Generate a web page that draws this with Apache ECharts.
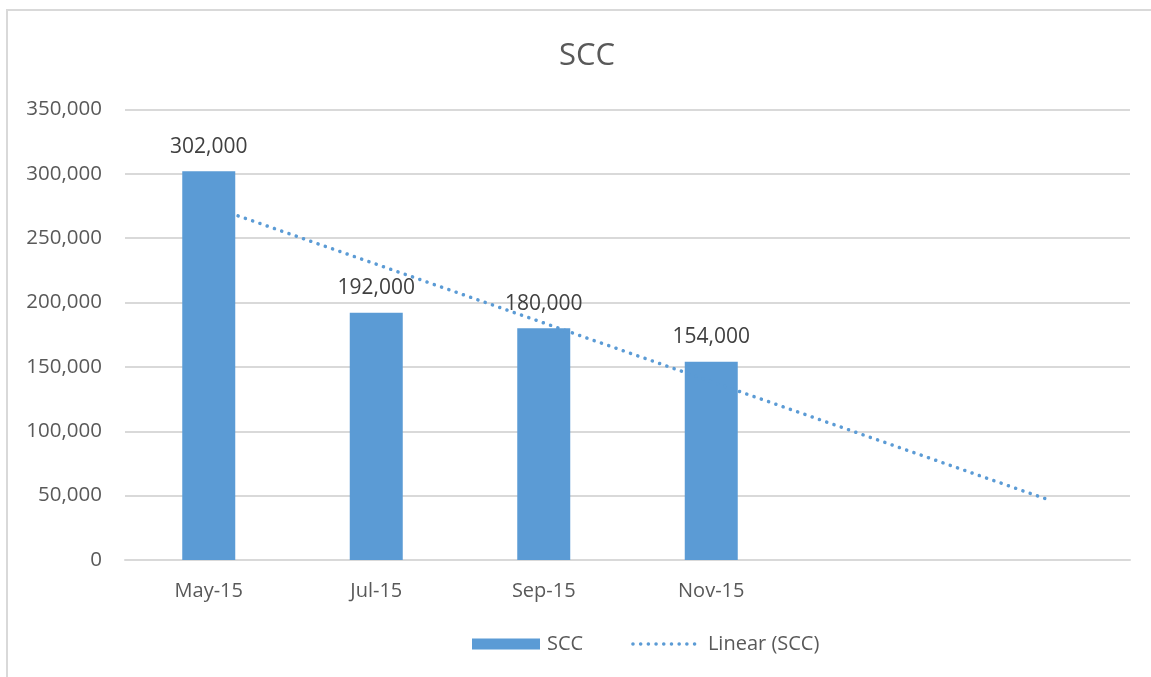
<!DOCTYPE html>
<html>
<head>
<meta charset="utf-8">
<title>SCC</title>
<script src="https://cdn.jsdelivr.net/npm/echarts@6/dist/echarts.min.js"></script>
<style>
  html, body { margin: 0; padding: 0; background: #fff; }
  #chart { width: 1151px; height: 677px; }
</style>
</head>
<body>
<div id="chart"></div>
<script>
// months counted from Jan-15 = 1
var monthPos = [5, 7, 9, 11]
var monthLabels = ['May-15', 'Jul-15', 'Sep-15', 'Nov-15']
var sccValues = [302000, 192000, 180000, 154000]
var yTicks = [0, 50000, 100000, 150000, 200000, 250000, 300000, 350000]
// where the trendline starts and stops on the month scale
var trendRange = [5.35, 15]

var textColor = '#595959'
var barColor = '#5B9BD5'
var dotted = { color: barColor, width: 3.5, type: [0.1, 7.6], cap: 'round' }

// least squares fit over the bar positions, like excel's linear trendline
function linearFit(xs, ys) {
  var n = xs.length
  var mx = 0, my = 0
  for (var i = 0; i < n; i++) { mx += xs[i]; my += ys[i] }
  mx /= n; my /= n
  var sxy = 0, sxx = 0
  for (var j = 0; j < n; j++) {
    sxy += (xs[j] - mx) * (ys[j] - my)
    sxx += (xs[j] - mx) * (xs[j] - mx)
  }
  var slope = sxy / sxx
  return function(x) { return my + slope * (x - mx) }
}

var fit = linearFit(monthPos, sccValues)
var trendData = trendRange.map(function(x) { return [x, fit(x)] })
var barData = monthPos.map(function(x, i) { return [x, sccValues[i]] })

function fmt(v) {
  return v.toString().replace(/\B(?=(\d{3})+(?!\d))/g, ',')
}

var chart = echarts.init(document.getElementById('chart'))
chart.setOption({
  animation: false,
  textStyle: { fontFamily: 'Open Sans', color: textColor },
  graphic: [{
    type: 'rect',
    shape: { x: 7, y: 10, width: 1170, height: 700 },
    style: { fill: 'none', stroke: '#D9D9D9', lineWidth: 2 },
    silent: true
  }],
  title: {
    text: 'SCC',
    left: 554,
    top: 36,
    textStyle: { fontFamily: 'Open Sans', fontWeight: 'normal', fontSize: 31, color: textColor }
  },
  grid: { left: 125, right: 21, top: 109.5, bottom: 117 },
  legend: {
    bottom: 23,
    left: 472,
    padding: 0,
    itemWidth: 68,
    itemHeight: 11,
    itemGap: 48,
    textStyle: { fontFamily: 'Open Sans', fontSize: 20, color: textColor, padding: [0, 0, 0, 2] },
    data: [
      { name: 'SCC', icon: 'rect' },
      { name: 'Linear (SCC)', itemStyle: { opacity: 0 }, lineStyle: dotted }
    ]
  },
  xAxis: {
    type: 'value',
    min: 4,
    max: 16,
    axisLine: { show: true, lineStyle: { color: '#D9D9D9', width: 2 } },
    axisTick: { show: false },
    splitLine: { show: false },
    axisLabel: {
      customValues: monthPos,
      margin: 21,
      fontFamily: 'Open Sans',
      fontSize: 20,
      color: textColor,
      formatter: function(v) {
        var i = monthPos.indexOf(v)
        return i >= 0 ? monthLabels[i] : ''
      }
    }
  },
  yAxis: {
    type: 'value',
    min: yTicks[0],
    max: yTicks[yTicks.length - 1],
    interval: yTicks[1] - yTicks[0],
    axisLine: { show: false },
    axisTick: { show: false },
    splitLine: { lineStyle: { color: '#D9D9D9', width: 2 } },
    axisLabel: {
      margin: 23,
      fontFamily: 'Open Sans',
      fontSize: 20.5,
      color: textColor,
      formatter: fmt
    }
  },
  series: [{
    name: 'SCC',
    type: 'bar',
    barWidth: 53,
    itemStyle: { color: barColor },
    label: {
      show: true,
      position: 'top',
      distance: 14,
      fontFamily: 'Open Sans',
      fontSize: 21,
      color: '#404040',
      formatter: function(p) { return fmt(p.value[1]) }
    },
    data: barData
  }, {
    name: 'Linear (SCC)',
    type: 'line',
    symbol: 'none',
    silent: true,
    lineStyle: dotted,
    data: trendData,
    z: 3
  }]
})
</script>
</body>
</html>
